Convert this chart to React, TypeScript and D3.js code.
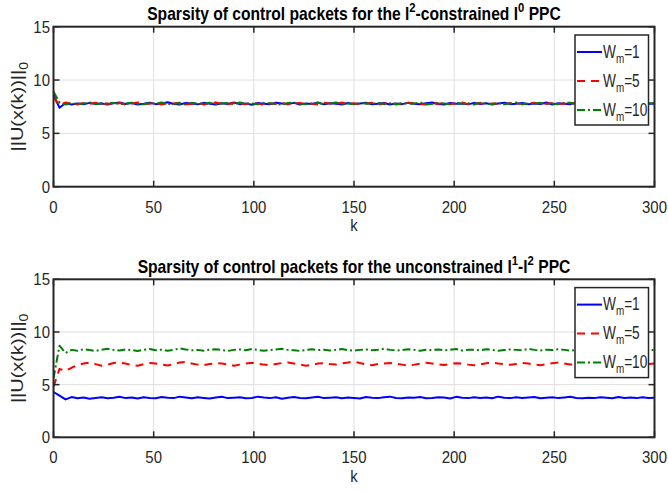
import { useEffect, useRef } from "react";
import * as d3 from "d3";

// k sampled every 3 steps, 0..300
const kStep = 3;
const xTicks = [0, 50, 100, 150, 200, 250, 300];
const yTicks = [0, 5, 10, 15];
const legendLabels = ["1", "5", "10"];

const topBlue = [
  8.6, 7.4, 7.85, 7.7, 7.8, 7.72, 7.86, 7.75, 7.8, 7.7,
  7.82, 7.9, 7.76, 7.84, 7.7, 7.78, 7.88, 7.74, 7.8, 7.92,
  7.76, 7.7, 7.84, 7.8, 7.72, 7.86, 7.78, 7.7, 7.82, 7.76,
  7.9, 7.74, 7.8, 7.68, 7.84, 7.78, 7.72, 7.88, 7.8, 7.74,
  7.86, 7.7, 7.8, 7.76, 7.9, 7.72, 7.82, 7.78, 7.7, 7.84,
  7.76, 7.8, 7.88, 7.72, 7.78, 7.84, 7.7, 7.8, 7.74, 7.86,
  7.78, 7.72, 7.82, 7.9, 7.76, 7.7, 7.84, 7.78, 7.8, 7.72,
  7.86, 7.76, 7.82, 7.7, 7.8, 7.88, 7.74, 7.78, 7.84, 7.72,
  7.8, 7.76, 7.9, 7.7, 7.82, 7.78, 7.74, 7.86, 7.8, 7.72,
  7.84, 7.76, 7.8, 7.7, 7.88, 7.78, 7.74, 7.82, 7.76, 7.8, 7.78,
];
const topRed = [
  8.4, 7.6, 7.9, 7.78, 7.7, 7.84, 7.76, 7.88, 7.72, 7.8,
  7.76, 7.84, 7.7, 7.8, 7.9, 7.74, 7.78, 7.86, 7.7, 7.82,
  7.8, 7.88, 7.72, 7.76, 7.84, 7.7, 7.8, 7.9, 7.76, 7.72,
  7.84, 7.8, 7.74, 7.86, 7.78, 7.7, 7.82, 7.76, 7.88, 7.72,
  7.8, 7.84, 7.74, 7.78, 7.7, 7.86, 7.8, 7.76, 7.9, 7.72,
  7.82, 7.74, 7.78, 7.86, 7.7, 7.8, 7.84, 7.76, 7.72, 7.88,
  7.8, 7.76, 7.7, 7.84, 7.78, 7.86, 7.72, 7.8, 7.9, 7.74,
  7.78, 7.84, 7.7, 7.8, 7.76, 7.72, 7.86, 7.82, 7.74, 7.8,
  7.88, 7.7, 7.78, 7.84, 7.76, 7.8, 7.72, 7.9, 7.78, 7.74,
  7.82, 7.86, 7.7, 7.8, 7.76, 7.84, 7.72, 7.8, 7.78, 7.86, 7.8,
];
const topGreen = [
  8.9, 7.9, 7.7, 7.84, 7.76, 7.8, 7.9, 7.72, 7.82, 7.78,
  7.86, 7.74, 7.8, 7.88, 7.76, 7.72, 7.84, 7.8, 7.9, 7.74,
  7.78, 7.82, 7.7, 7.86, 7.8, 7.76, 7.88, 7.72, 7.8, 7.84,
  7.74, 7.9, 7.78, 7.8, 7.72, 7.86, 7.82, 7.76, 7.7, 7.84,
  7.88, 7.78, 7.72, 7.8, 7.86, 7.74, 7.82, 7.9, 7.76, 7.8,
  7.72, 7.84, 7.8, 7.76, 7.88, 7.74, 7.82, 7.7, 7.86, 7.78,
  7.8, 7.9, 7.74, 7.76, 7.84, 7.8, 7.72, 7.86, 7.78, 7.82,
  7.7, 7.88, 7.8, 7.76, 7.84, 7.74, 7.8, 7.9, 7.72, 7.82,
  7.78, 7.86, 7.76, 7.8, 7.72, 7.84, 7.88, 7.74, 7.8, 7.82,
  7.76, 7.9, 7.78, 7.72, 7.86, 7.8, 7.84, 7.76, 7.82, 7.8, 7.86,
];

const botBlue = [
  4.3, 3.95, 3.6, 3.82, 3.7, 3.78, 3.66, 3.74, 3.8, 3.7,
  3.76, 3.84, 3.72, 3.78, 3.68, 3.8, 3.74, 3.7, 3.82, 3.76,
  3.72, 3.86, 3.78, 3.7, 3.8, 3.74, 3.68, 3.78, 3.84, 3.72,
  3.76, 3.8, 3.7, 3.74, 3.86, 3.78, 3.72, 3.8, 3.66, 3.76,
  3.82, 3.74, 3.7, 3.78, 3.84, 3.72, 3.76, 3.8, 3.7, 3.78,
  3.74, 3.68, 3.82, 3.76, 3.72, 3.8, 3.86, 3.74, 3.7, 3.78,
  3.76, 3.82, 3.7, 3.74, 3.8, 3.78, 3.68, 3.84, 3.76, 3.72,
  3.8, 3.74, 3.78, 3.7, 3.86, 3.76, 3.72, 3.8, 3.74, 3.78,
  3.82, 3.7, 3.76, 3.8, 3.72, 3.78, 3.84, 3.74, 3.7, 3.76,
  3.72, 3.8, 3.76, 3.7, 3.82, 3.74, 3.78, 3.72, 3.8, 3.74, 3.76,
];
const botRed = [
  4.8, 6.5, 6.3, 6.6, 6.85, 7.0, 7.1, 6.95, 6.8, 6.9,
  7.05, 7.1, 7.0, 6.85, 6.8, 6.95, 7.05, 7.0, 6.9, 6.82,
  6.95, 7.1, 7.15, 7.0, 6.9, 6.85, 6.95, 7.05, 7.0, 6.92,
  6.8, 6.9, 7.0, 7.08, 7.0, 6.9, 6.85, 6.95, 7.05, 7.1,
  7.0, 6.9, 6.8, 6.88, 7.0, 7.05, 6.95, 6.9, 7.02, 7.1,
  7.2, 7.05, 6.92, 6.85, 6.95, 7.0, 7.06, 6.98, 6.9, 6.82,
  6.9, 7.0, 7.08, 7.0, 6.92, 6.86, 6.95, 7.04, 7.0, 6.9,
  6.84, 6.92, 7.02, 7.08, 7.0, 6.94, 6.88, 6.96, 7.05, 7.0,
  6.9, 6.84, 6.95, 7.04, 7.1, 7.0, 6.92, 6.86, 6.96, 7.02,
  6.94, 6.88, 6.98, 7.06, 7.0, 6.9, 6.84, 6.96, 7.02, 6.95, 7.0,
];
const botGreen = [
  5.6, 8.7, 8.0, 8.3, 8.22, 8.36, 8.28, 8.2, 8.32, 8.4,
  8.3, 8.24, 8.34, 8.28, 8.2, 8.3, 8.38, 8.26, 8.32, 8.22,
  8.3, 8.44, 8.34, 8.26, 8.3, 8.22, 8.32, 8.36, 8.28, 8.2,
  8.3, 8.34, 8.26, 8.38, 8.3, 8.22, 8.28, 8.34, 8.4, 8.3,
  8.26, 8.2, 8.3, 8.36, 8.28, 8.32, 8.24, 8.3, 8.38, 8.28,
  8.22, 8.3, 8.34, 8.26, 8.32, 8.4, 8.3, 8.24, 8.28, 8.36,
  8.3, 8.22, 8.32, 8.28, 8.34, 8.26, 8.3, 8.38, 8.24, 8.3,
  8.32, 8.26, 8.36, 8.3, 8.22, 8.28, 8.34, 8.3, 8.26, 8.4,
  8.3, 8.24, 8.32, 8.28, 8.36, 8.3, 8.22, 8.3, 8.34, 8.26,
  8.32, 8.28, 8.36, 8.24, 8.3, 8.34, 8.26, 8.32, 8.3, 8.28, 8.3,
];

const FONT = "'Liberation Sans', Arial, Helvetica, sans-serif";
const INK = "#262626";

type Part = { t: string; shift?: number; size?: number };

function addText(parent: any, x: number, y: number, parts: Part[], o: any) {
  const size = o.size;
  const t = parent.append("text")
    .attr("text-anchor", o.anchor || "start")
    .attr("font-family", FONT)
    .attr("font-size", size)
    .attr("font-weight", o.bold ? "bold" : "normal")
    .attr("fill", o.color || INK);
  let cur = 0;
  parts.forEach((p) => {
    const sh = p.shift || 0;
    const ts = t.append("tspan").text(p.t);
    if (sh !== cur) ts.attr("dy", sh - cur);
    if (p.size) ts.attr("font-size", p.size);
    cur = sh;
  });
  let s = o.scaleX || 1;
  if (o.width) {
    const w = (t.node() as SVGTextElement).getBBox().width;
    if (w > 0) s = o.width / w;
  }
  t.attr("transform", `translate(${x},${y}) rotate(${o.rotate || 0}) scale(${s},1)`);
  return s;
}

const series = [
  { color: "#0000ff", dash: null },
  { color: "#ff0000", dash: "8,6" },
  { color: "#008000", dash: "8,3,2,3" },
];

export default function App() {
  const ref = useRef<SVGSVGElement>(null);

  useEffect(() => {
    const svg = d3.select(ref.current);
    svg.selectAll("*").remove();
    svg.append("rect").attr("width", 668).attr("height", 493).attr("fill", "#fff");

    const left = 53.5, right = 654.5;
    const x = d3.scaleLinear().domain([0, 300]).range([left, right]);

    const panels = [
      {
        top: 26.7, bottom: 186.7, data: [topBlue, topRed, topGreen],
        title: [
          { t: "Sparsity of control packets for the l" },
          { t: "2", shift: -8, size: 13 },
          { t: "-constrained l", shift: 0 },
          { t: "0", shift: -8, size: 13 },
          { t: " PPC", shift: 0 },
        ],
      },
      {
        top: 279.3, bottom: 437.3, data: [botBlue, botRed, botGreen],
        title: [
          { t: "Sparsity of control packets for the unconstrained l" },
          { t: "1", shift: -8, size: 13 },
          { t: "-l", shift: 0 },
          { t: "2", shift: -8, size: 13 },
          { t: " PPC", shift: 0 },
        ],
      },
    ];

    let titleScale = 0;
    panels.forEach((p, pi) => {
      const y = d3.scaleLinear().domain([0, 15]).range([p.bottom, p.top]);
      const g = svg.append("g");

      // grid
      g.selectAll("line.gx").data(xTicks.slice(1, -1)).join("line")
        .attr("x1", (d) => x(d)).attr("x2", (d) => x(d))
        .attr("y1", p.top).attr("y2", p.bottom)
        .attr("stroke", "#dfdfdf").attr("stroke-width", 1);
      g.selectAll("line.gy").data(yTicks.slice(1, -1)).join("line")
        .attr("y1", (d) => y(d)).attr("y2", (d) => y(d))
        .attr("x1", left).attr("x2", right)
        .attr("stroke", "#dfdfdf").attr("stroke-width", 1);

      // lines
      const clipId = `clip${pi}`;
      svg.append("clipPath").attr("id", clipId).append("rect")
        .attr("x", left).attr("y", p.top).attr("width", right - left).attr("height", p.bottom - p.top);
      const line = d3.line<number>().x((_, i) => x(i * kStep)).y((d) => y(d));
      p.data.forEach((vals, si) => {
        g.append("path").attr("d", line(vals))
          .attr("clip-path", `url(#${clipId})`)
          .attr("fill", "none").attr("stroke", series[si].color)
          .attr("stroke-width", 2).attr("stroke-linejoin", "round")
          .attr("stroke-dasharray", series[si].dash);
      });

      // ticks (inward, all four sides)
      const tl = 6;
      xTicks.forEach((d) => {
        g.append("line").attr("x1", x(d)).attr("x2", x(d)).attr("y1", p.bottom).attr("y2", p.bottom - tl)
          .attr("stroke", INK).attr("stroke-width", 1.5);
        g.append("line").attr("x1", x(d)).attr("x2", x(d)).attr("y1", p.top).attr("y2", p.top + tl)
          .attr("stroke", INK).attr("stroke-width", 1.5);
        addText(g, x(d), p.bottom + 26, [{ t: String(d) }], { size: 17, anchor: "middle", scaleX: 0.88 });
      });
      yTicks.forEach((d) => {
        g.append("line").attr("x1", left).attr("x2", left + tl).attr("y1", y(d)).attr("y2", y(d))
          .attr("stroke", INK).attr("stroke-width", 1.5);
        g.append("line").attr("x1", right).attr("x2", right - tl).attr("y1", y(d)).attr("y2", y(d))
          .attr("stroke", INK).attr("stroke-width", 1.5);
        addText(g, 50, y(d) + 6, [{ t: String(d) }], { size: 17, anchor: "end", scaleX: 0.88 });
      });

      // box
      g.append("rect").attr("x", left).attr("y", p.top)
        .attr("width", right - left).attr("height", p.bottom - p.top)
        .attr("fill", "none").attr("stroke", INK).attr("stroke-width", 2);

      // labels
      addText(g, (left + right) / 2, p.bottom + 44.5, [{ t: "k" }], { size: 17, anchor: "middle", scaleX: 0.88 });
      addText(g, 23, (p.top + p.bottom) / 2,
        [{ t: "||U(x(k))||" }, { t: "0", shift: 5, size: 12 }],
        { size: 17, anchor: "middle", rotate: -90, width: 90 });

      const titleOpts: any = { size: 18, anchor: "middle", bold: true, color: "#000" };
      if (pi === 0) titleOpts.width = 414; else titleOpts.scaleX = titleScale;
      const s = addText(g, (left + right) / 2, p.top - 6.3, p.title, titleOpts);
      if (pi === 0) titleScale = s;

      // legend
      const lx = 575, ly = p.top + 8.3, lw = 73.5, lh = 90;
      const lg = g.append("g");
      lg.append("rect").attr("x", lx).attr("y", ly).attr("width", lw).attr("height", lh)
        .attr("fill", "#fff").attr("stroke", INK).attr("stroke-width", 1.5);
      legendLabels.forEach((lab, i) => {
        const ry = ly + 17 + i * 29;
        lg.append("line").attr("x1", lx + 2).attr("x2", lx + 27).attr("y1", ry).attr("y2", ry)
          .attr("stroke", series[i].color).attr("stroke-width", 2)
          .attr("stroke-dasharray", series[i].dash);
        addText(lg, lx + 28, ry + 5.8,
          [{ t: "W" }, { t: "m", shift: 5, size: 13 }, { t: "=" + lab, shift: 0 }],
          { size: 18, anchor: "start", scaleX: 0.76 });
      });
    });
  }, []);

  return (
    <svg ref={ref} width={668} height={493}
      style={{ position: "absolute", left: 0, top: 0, display: "block" }} />
  );
}
